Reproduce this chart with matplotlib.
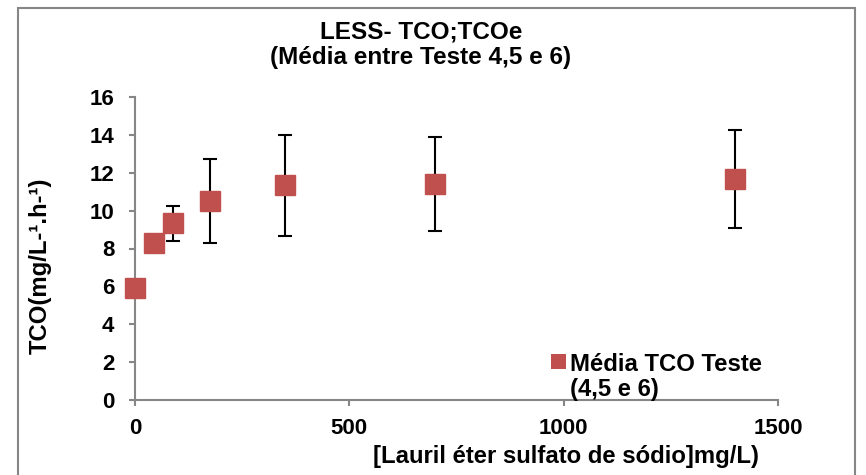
import matplotlib
matplotlib.use("Agg")
import matplotlib.pyplot as plt
from matplotlib.patches import Rectangle

plt.rcParams['font.family'] = ['Liberation Sans', 'DejaVu Sans']

conc = [0, 43.75, 87.5, 175, 350, 700, 1400]
tco = [5.9, 8.3, 9.33, 10.49, 11.33, 11.4, 11.67]
err = [0.0, 0.0, 0.92, 2.22, 2.65, 2.5, 2.6]
series_label = "Média TCO Teste\n(4,5 e 6)"
title = "LESS- TCO;TCOe\n(Média entre Teste 4,5 e 6)"
xlabel = "[Lauril éter sulfato de sódio]mg/L)"
ylabel = "TCO(mg/L-¹.h-¹)"

W, H = 866, 475
fig = plt.figure(figsize=(W/100, H/100), dpi=100)
ax = fig.add_axes([135/W, 1-400/H, (778-135)/W, (400-97)/H])

ax.errorbar(conc, tco, yerr=err, fmt='none', ecolor='black', elinewidth=1.5,
            capsize=5, capthick=1.5, zorder=2)
ax.plot(conc, tco, linestyle='none', marker='s', markersize=14.5,
        color='#C0504D', markeredgecolor='#C0504D', zorder=3, clip_on=False)

ax.set_xlim(0, 1500)
ax.set_ylim(0, 16)
ax.set_xticks([0, 500, 1000, 1500])
ax.set_yticks(range(0, 17, 2))
gray = '#868686'
for s in ['top', 'right']:
    ax.spines[s].set_visible(False)
for s in ['left', 'bottom']:
    ax.spines[s].set_color(gray)
    ax.spines[s].set_linewidth(1.5)
ax.tick_params(axis='both', colors=gray, length=4, width=1.5, labelcolor='black',
               labelsize=16)
for lab in ax.get_xticklabels() + ax.get_yticklabels():
    lab.set_fontweight('bold')
ax.tick_params(axis='y', pad=11)
ax.tick_params(axis='x', pad=9)

fig.text(421/W, 1-45/H, title, ha='center', va='center', fontsize=17.5,
         fontweight='bold', linespacing=1.12)
fig.text(566/W, 1-457/H, xlabel, ha='center', va='center', fontsize=17.2,
         fontweight='bold')
fig.text(40/W, 1-266/H, ylabel, ha='center', va='center', rotation=90,
         fontsize=17.2, fontweight='bold')

# legend
fig.patches.append(Rectangle((551/W, 1-369/H), 15/W, 15/H, transform=fig.transFigure,
                             facecolor='#C0504D', edgecolor='none'))
fig.text(570/W, 1-377/H, series_label, ha='left', va='center', fontsize=17.2,
         fontweight='bold', linespacing=1.15)

# outer border
fig.patches.append(Rectangle((18/W, -0.05), (855-18)/W, 1-8/H+0.05,
                             transform=fig.transFigure, facecolor='none',
                             edgecolor=gray, linewidth=1.5))

fig.savefig('out.png', dpi=100)
